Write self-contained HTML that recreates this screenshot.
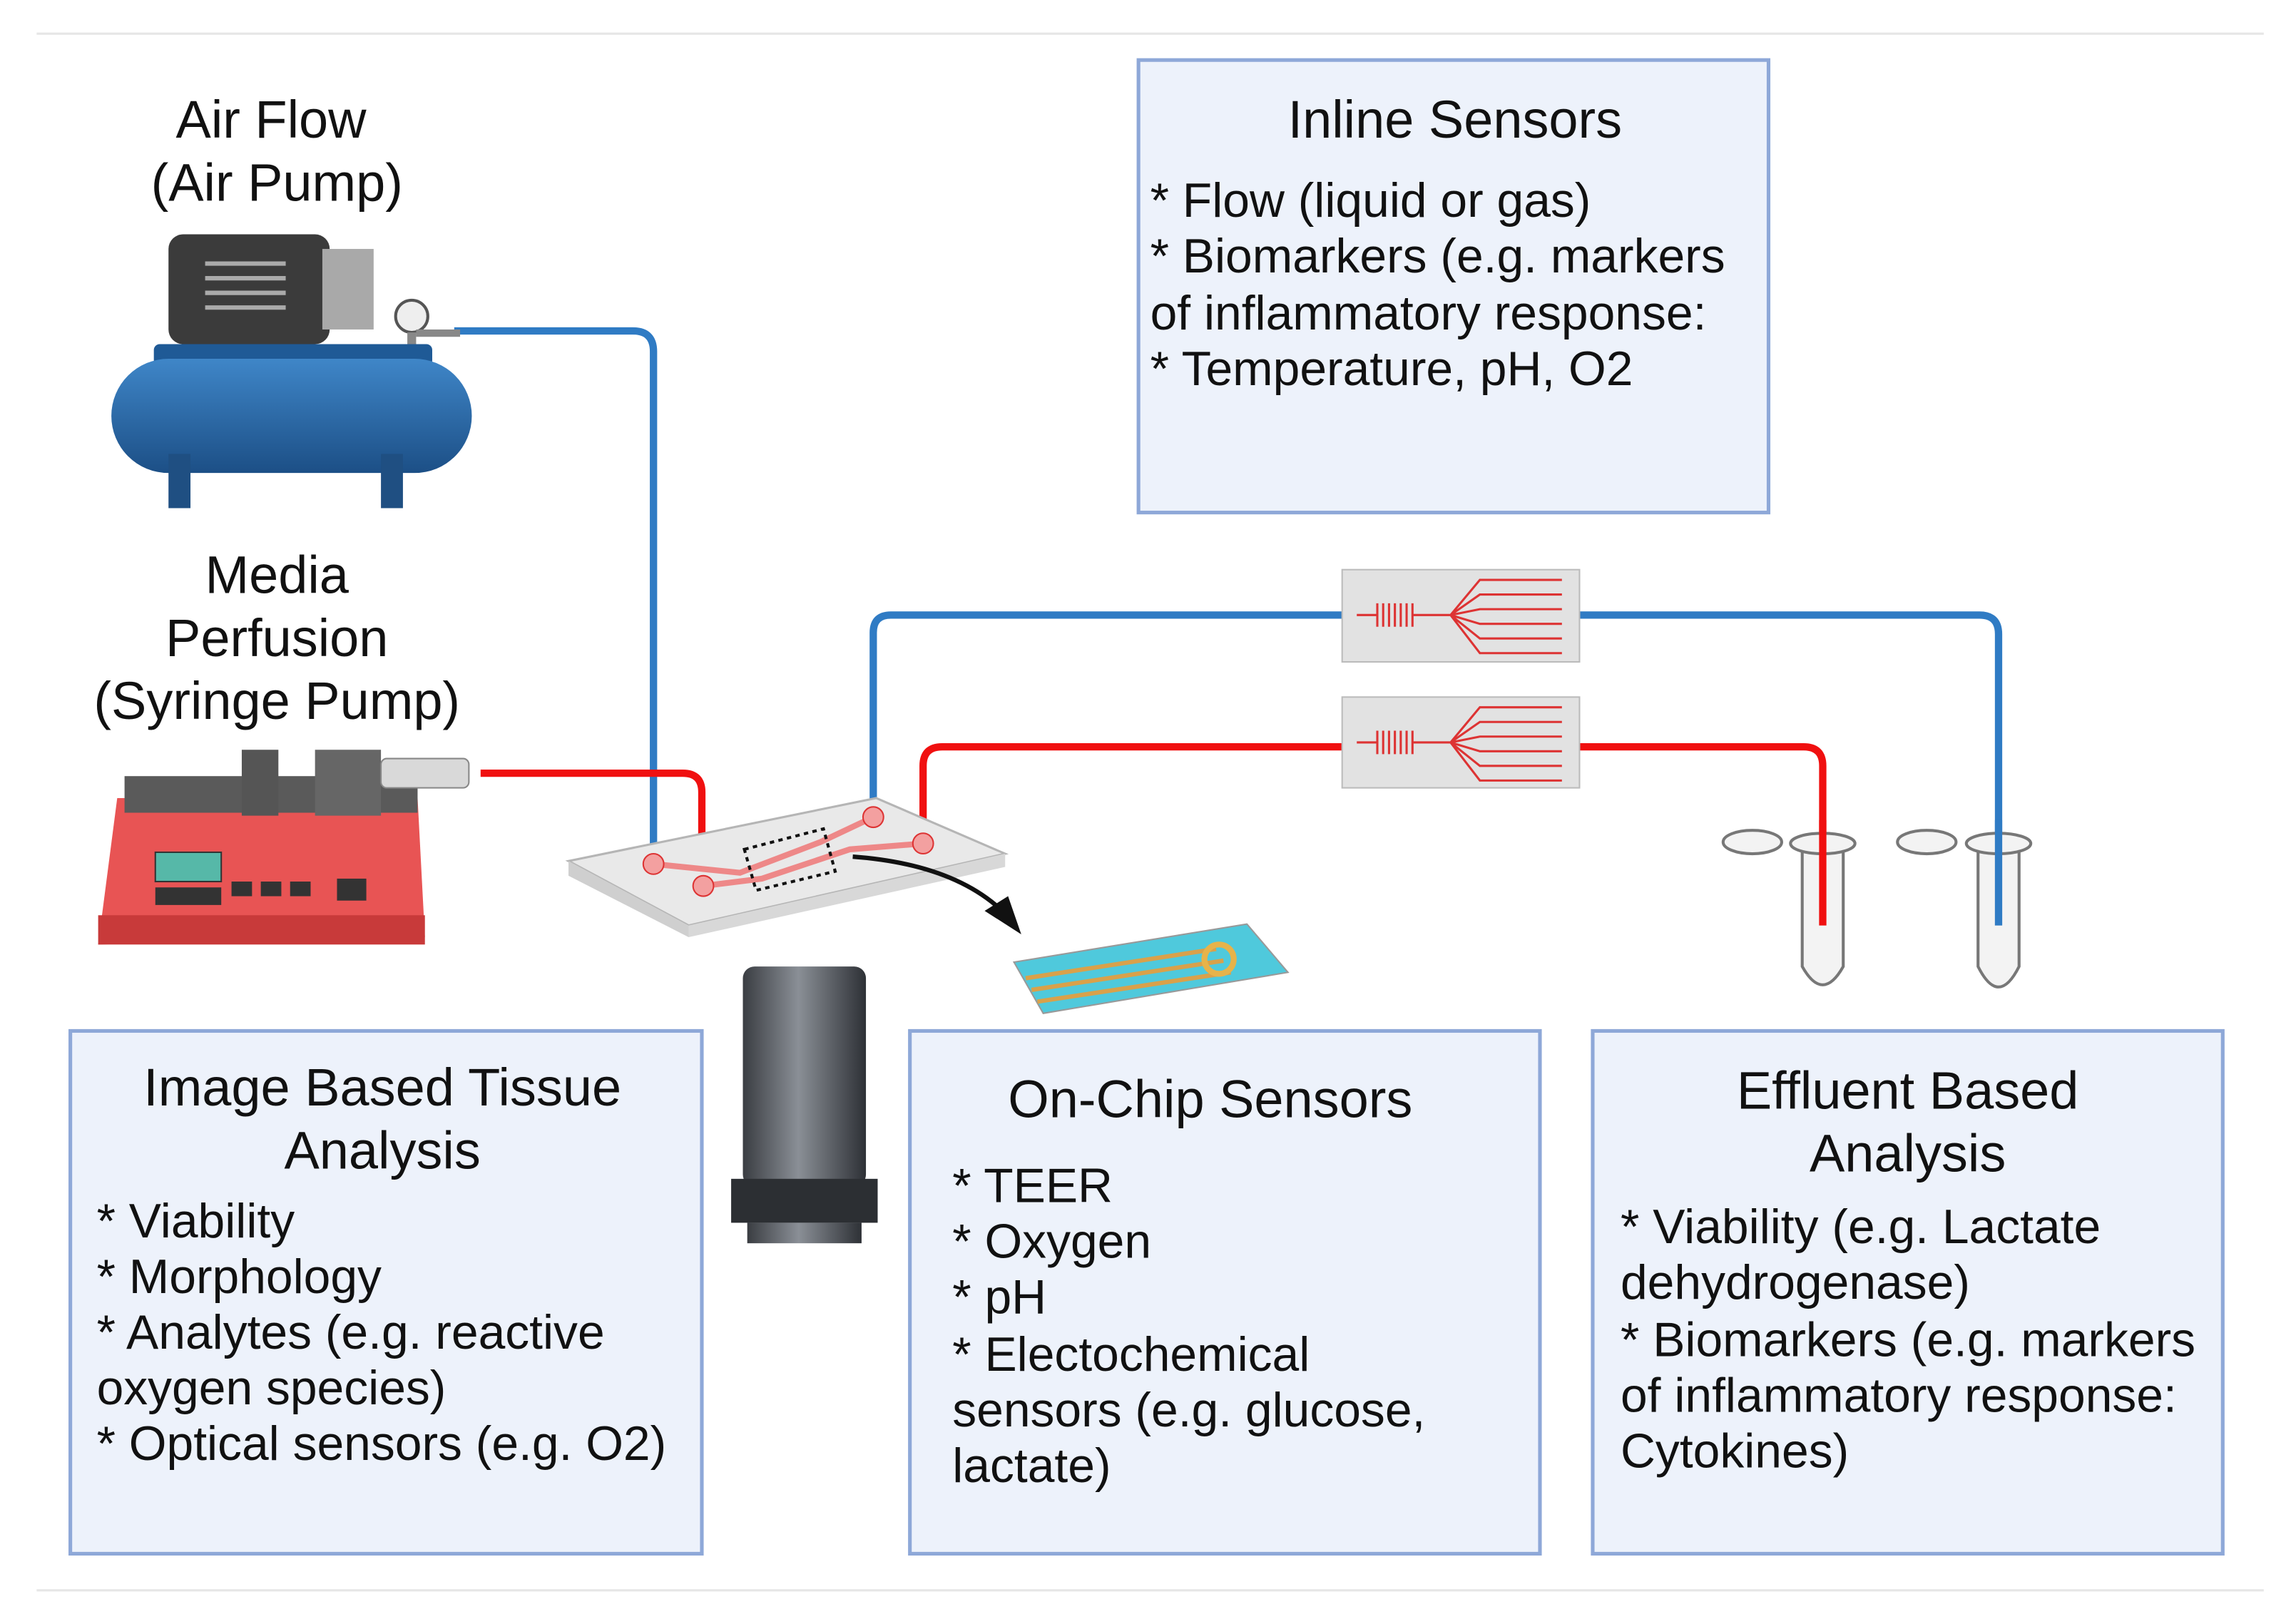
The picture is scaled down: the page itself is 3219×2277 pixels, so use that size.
<!DOCTYPE html>
<html><head><meta charset="utf-8"><style>
html,body{margin:0;padding:0;background:#fff}
svg{display:block}
text{font-family:"Liberation Sans",sans-serif;fill:#111}
</style></head><body>
<svg width="3219" height="2277" viewBox="0 0 1567 1109" preserveAspectRatio="none" xmlns="http://www.w3.org/2000/svg">
<defs>
<linearGradient id="obj" x1="0" x2="1"><stop offset="0" stop-color="#3a3d42"/><stop offset="0.45" stop-color="#8a8f96"/><stop offset="1" stop-color="#2e3136"/></linearGradient>
<linearGradient id="tank" x1="0" y1="0" x2="0" y2="1"><stop offset="0" stop-color="#3f86c8"/><stop offset="1" stop-color="#1c4f86"/></linearGradient>
</defs>
<line x1="25" y1="23" x2="1545" y2="23" stroke="#e6e6e6" stroke-width="1.5"/>
<line x1="25" y1="1086" x2="1545" y2="1086" stroke="#e6e6e6" stroke-width="1.5"/>

<rect x="777" y="41" width="430" height="309" fill="#edf2fb" stroke="#8ea8d8" stroke-width="2.5"/>
<rect x="48" y="704" width="431" height="357" fill="#edf2fb" stroke="#8ea8d8" stroke-width="2.5"/>
<rect x="621" y="704" width="430" height="357" fill="#edf2fb" stroke="#8ea8d8" stroke-width="2.5"/>
<rect x="1087" y="704" width="430" height="357" fill="#edf2fb" stroke="#8ea8d8" stroke-width="2.5"/>

<g font-size="36">
<text x="185" y="94" text-anchor="middle">Air Flow</text>
<text x="189" y="137" text-anchor="middle">(Air Pump)</text>
<text x="189" y="405" text-anchor="middle">Media</text>
<text x="189" y="448" text-anchor="middle">Perfusion</text>
<text x="189" y="491" text-anchor="middle">(Syringe Pump)</text>
<text x="993" y="94" text-anchor="middle">Inline Sensors</text>
<text x="261" y="755" text-anchor="middle">Image Based Tissue</text>
<text x="261" y="798" text-anchor="middle">Analysis</text>
<text x="826" y="763" text-anchor="middle">On-Chip Sensors</text>
<text x="1302" y="757" text-anchor="middle">Effluent Based</text>
<text x="1302" y="800" text-anchor="middle">Analysis</text>
</g>
<g font-size="33">
<text x="785" y="148">* Flow (liquid or gas)</text>
<text x="785" y="186">* Biomarkers (e.g. markers</text>
<text x="785" y="225">of inflammatory response:</text>
<text x="785" y="263">* Temperature, pH, O2</text>

<text x="66" y="845">* Viability</text>
<text x="66" y="883">* Morphology</text>
<text x="66" y="921">* Analytes (e.g. reactive</text>
<text x="66" y="959">oxygen species)</text>
<text x="66" y="997">* Optical sensors (e.g. O2)</text>

<text x="650" y="821">* TEER</text>
<text x="650" y="859">* Oxygen</text>
<text x="650" y="897">* pH</text>
<text x="650" y="936">* Electochemical</text>
<text x="650" y="974">sensors (e.g. glucose,</text>
<text x="650" y="1012">lactate)</text>

<text x="1106" y="849">* Viability (e.g. Lactate</text>
<text x="1106" y="887">dehydrogenase)</text>
<text x="1106" y="926">* Biomarkers (e.g. markers</text>
<text x="1106" y="964">of inflammatory response:</text>
<text x="1106" y="1002">Cytokines)</text>
</g>

<g fill="none" stroke-width="5" stroke-linejoin="round">
<path d="M310 226 H432 Q446 226 446 240 V590" stroke="#2f7bc4"/>
<path d="M596 558 V432 Q596 420 608 420 H916" stroke="#2f7bc4"/>
<path d="M1078 420 H1351 Q1364 420 1364 433 V632" stroke="#2f7bc4"/>
<path d="M328 528 H466 Q479 528 479 541 V605" stroke="#f01010"/>
<path d="M630 576 V523 Q630 510 643 510 H916" stroke="#f01010"/>
<path d="M1078 510 H1231 Q1244 510 1244 523 V632" stroke="#f01010"/>
</g>

<g>
<rect x="916" y="389" width="162" height="63" fill="#e2e2e2" stroke="#bbb"/>
<rect x="916" y="476" width="162" height="62" fill="#e2e2e2" stroke="#bbb"/>
<g stroke="#d33" stroke-width="1.5" fill="none">
<path d="M926 420 H940 M940 412 v16 M944 412 v16 M948 412 v16 M952 412 v16 M956 412 v16 M960 412 v16 M964 412 v16 M964 420 H990 L1010 396 H1066 M990 420 L1010 406 H1066 M990 420 L1010 416 H1066 M990 420 L1010 426 H1066 M990 420 L1010 436 H1066 M990 420 L1010 446 H1066"/>
<path d="M926 507 H940 M940 499 v16 M944 499 v16 M948 499 v16 M952 499 v16 M956 499 v16 M960 499 v16 M964 499 v16 M964 507 H990 L1010 483 H1066 M990 507 L1010 493 H1066 M990 507 L1010 503 H1066 M990 507 L1010 513 H1066 M990 507 L1010 523 H1066 M990 507 L1010 533 H1066"/>
</g>
</g>

<polygon points="388,588 598,545 686,583 470,632" fill="#e9e9e9" stroke="#b5b5b5" stroke-width="1.5"/>
<polygon points="388,588 470,632 470,640 388,598" fill="#cfcfcf"/>
<polygon points="470,632 686,583 686,592 470,640" fill="#d8d8d8"/>
<path d="M446 590 L505 596 L560 575 L596 558 M480 605 L520 600 L580 580 L630 576" stroke="#e88" stroke-width="4" fill="none"/>
<polygon points="508,580 562,566 570,595 516,608" fill="none" stroke="#111" stroke-width="2" stroke-dasharray="3,3"/>
<circle cx="446" cy="590" r="7" fill="#f3a0a0" stroke="#d33"/>
<circle cx="480" cy="605" r="7" fill="#f3a0a0" stroke="#d33"/>
<circle cx="596" cy="558" r="7" fill="#f3a0a0" stroke="#d33"/>
<circle cx="630" cy="576" r="7" fill="#f3a0a0" stroke="#d33"/>
<path d="M582 585 Q650 590 684 622" stroke="#111" stroke-width="3" fill="none"/>
<polygon points="697,638 672,622 688,612" fill="#111"/>

<polygon points="692,657 851,631 879,664 712,692" fill="#4fc9dc" stroke="#999"/>
<path d="M700 668 L830 648 M704 676 L835 656 M708 684 L840 664" stroke="#d9a14a" stroke-width="3"/>
<circle cx="832" cy="655" r="10" fill="none" stroke="#e7b34a" stroke-width="4"/>

<rect x="507" y="660" width="84" height="150" rx="8" fill="url(#obj)"/>
<rect x="499" y="805" width="100" height="30" fill="#2c2f33"/>
<rect x="510" y="835" width="78" height="14" fill="url(#obj)"/>

<rect x="115" y="160" width="110" height="75" rx="10" fill="#3b3b3b"/>
<rect x="220" y="170" width="35" height="55" fill="#a9a9a9"/>
<g stroke="#aaa" stroke-width="3"><path d="M140 180 h55 M140 190 h55 M140 200 h55 M140 210 h55"/></g>
<circle cx="281" cy="216" r="11" fill="#eee" stroke="#555" stroke-width="2"/>
<rect x="278" y="227" width="6" height="15" fill="#888"/>
<rect x="284" y="225" width="30" height="5" fill="#888"/>
<rect x="105" y="235" width="190" height="15" rx="4" fill="#1f5a96"/>
<rect x="76" y="245" width="246" height="78" rx="39" fill="url(#tank)"/>
<rect x="115" y="310" width="15" height="37" fill="#1f4f82"/>
<rect x="260" y="310" width="15" height="37" fill="#1f4f82"/>

<polygon points="80,545 285,545 290,640 67,645" fill="#e85454"/>
<rect x="67" y="625" width="223" height="20" fill="#c83a3a"/>
<rect x="85" y="530" width="200" height="25" fill="#5a5a5a"/>
<rect x="165" y="512" width="25" height="45" fill="#555"/>
<rect x="215" y="512" width="45" height="45" fill="#666"/>
<rect x="260" y="518" width="60" height="20" rx="4" fill="#d9d9d9" stroke="#888"/>
<rect x="106" y="582" width="45" height="20" fill="#56b8a8" stroke="#333"/>
<g fill="#333"><rect x="106" y="606" width="45" height="12"/><rect x="158" y="602" width="14" height="10"/><rect x="178" y="602" width="14" height="10"/><rect x="198" y="602" width="14" height="10"/><rect x="230" y="600" width="20" height="15"/></g>

<g fill="#f3f3f3" stroke="#777" stroke-width="2">
<path d="M1230 578 V660 Q1244 685 1258 660 V578 Z"/>
<path d="M1350 578 V660 Q1364 688 1378 660 V578 Z"/>
<ellipse cx="1244" cy="576" rx="22" ry="7"/>
<ellipse cx="1364" cy="576" rx="22" ry="7"/>
<ellipse cx="1196" cy="575" rx="20" ry="8"/>
<ellipse cx="1315" cy="575" rx="20" ry="8"/>
</g>
<path d="M1244 560 V632" stroke="#f01010" stroke-width="5"/>
<path d="M1364 560 V632" stroke="#2f7bc4" stroke-width="5"/>
</svg>
</body></html>
